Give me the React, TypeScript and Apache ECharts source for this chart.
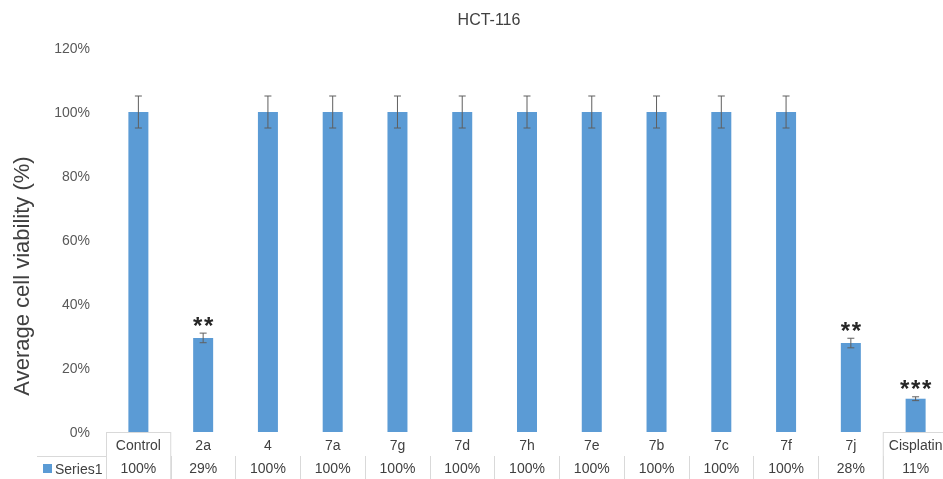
import React, { useEffect, useRef } from "react";
import * as echarts from "echarts";

const categories = ["Control", "2a", "4", "7a", "7g", "7d", "7h", "7e", "7b", "7c", "7f", "7j", "Cisplatin"];
const values = [100, 29.4, 100, 100, 100, 100, 100, 100, 100, 100, 100, 27.8, 10.4];
const errors = [5, 1.5, 5, 5, 5, 5, 5, 5, 5, 5, 5, 1.5, 0.6];
const tableLabels = ["100%", "29%", "100%", "100%", "100%", "100%", "100%", "100%", "100%", "100%", "100%", "28%", "11%"];
const markers = ["", "**", "", "", "", "", "", "", "", "", "", "**", "***"];
const yTicks = [0, 20, 40, 60, 80, 100, 120];

const FONT = "Liberation Sans";
const BAR = "#5B9BD5";
const LINE = "#d9d9d9";

export default function App() {
  const ref = useRef<HTMLDivElement>(null);
  useEffect(() => {
    if (!ref.current) return;
    const chart = echarts.init(ref.current, undefined, { renderer: "svg" });
    const gridLeft = 106;
    const gridTop = 48;
    const gridBottom = 47;
    chart.setOption({
      animation: false,
      textStyle: { fontFamily: FONT },
      grid: { left: gridLeft, right: 2, top: gridTop, bottom: gridBottom, containLabel: false },
      xAxis: [
        {
          type: "category",
          data: categories,
          position: "bottom",
          axisLine: { show: false },
          axisTick: { show: false },
          axisLabel: { color: "#404040", fontSize: 14, margin: 6, interval: 0 },
        },
        {
          type: "category",
          data: tableLabels,
          position: "bottom",
          offset: 24,
          axisLine: { show: false },
          axisTick: { show: true, length: 23, alignWithLabel: false, interval: 0, lineStyle: { color: LINE } },
          axisLabel: { color: "#404040", fontSize: 14, margin: 5, interval: 0 },
        },
      ],
      yAxis: {
        type: "value",
        min: yTicks[0],
        max: yTicks[yTicks.length - 1],
        interval: 20,
        axisLine: { show: false },
        axisTick: { show: false },
        splitLine: { show: false },
        axisLabel: { formatter: "{value}%", color: "#595959", fontSize: 14, margin: 16 },
      },
      series: [
        {
          type: "bar",
          data: values,
          barWidth: 20,
          itemStyle: { color: BAR },
          xAxisIndex: 0,
        },
        {
          type: "custom",
          xAxisIndex: 0,
          data: categories.map((_, i) => [i, values[i], errors[i]]),
          encode: { x: 0, y: 1 },
          z: 5,
          renderItem: (params: any, api: any) => {
            const x = api.value(0);
            const y = api.value(1);
            const e = api.value(2);
            const top = api.coord([x, y + e]);
            const bot = api.coord([x, y - e]);
            const h = 3.5;
            const st = { stroke: "#5f5f5f", lineWidth: 1 };
            const children: any[] = [
              { type: "line", shape: { x1: top[0], y1: top[1], x2: bot[0], y2: bot[1] }, style: st },
              { type: "line", shape: { x1: top[0] - h, y1: top[1], x2: top[0] + h, y2: top[1] }, style: st },
              { type: "line", shape: { x1: bot[0] - h, y1: bot[1], x2: bot[0] + h, y2: bot[1] }, style: st },
            ];
            const m = markers[params.dataIndex];
            if (m) {
              const n = m.length;
              for (let k = 0; k < n; k++) {
                children.push({
                  type: "text",
                  style: {
                    text: "*",
                    x: top[0] + (k - (n - 1) / 2) * 11,
                    y: top[1] + 4,
                    align: "center",
                    verticalAlign: "bottom",
                    fontSize: 24,
                    fontWeight: "bold",
                    fontFamily: FONT,
                    fill: "#262626",
                  },
                });
              }
            }
            return { type: "group", children };
          },
        },
      ],
      graphic: [
        {
          type: "text",
          style: { text: "HCT-116", x: 489, y: 19, align: "center", verticalAlign: "middle", fontSize: 16, fontFamily: FONT, fill: "#404040" },
        },
        {
          type: "text",
          rotation: Math.PI / 2,
          x: 21,
          y: 276,
          style: { text: "Average cell viability (%)", x: 0, y: 0, align: "center", verticalAlign: "middle", fontSize: 22, fontFamily: FONT, fill: "#404040" },
        },
        { type: "line", shape: { x1: 106, y1: 432.5, x2: 170.75, y2: 432.5 }, style: { stroke: LINE, lineWidth: 1 } },
        { type: "line", shape: { x1: 883, y1: 432.5, x2: 950, y2: 432.5 }, style: { stroke: LINE, lineWidth: 1 } },
        { type: "line", shape: { x1: 106.5, y1: 432, x2: 106.5, y2: 479 }, style: { stroke: LINE, lineWidth: 1 } },
        { type: "line", shape: { x1: 170.75, y1: 432, x2: 170.75, y2: 479 }, style: { stroke: LINE, lineWidth: 1 } },
        { type: "line", shape: { x1: 883.25, y1: 432, x2: 883.25, y2: 479 }, style: { stroke: LINE, lineWidth: 1 } },
        { type: "line", shape: { x1: 37, y1: 456.5, x2: 106, y2: 456.5 }, style: { stroke: LINE, lineWidth: 1 } },
        { type: "rect", shape: { x: 43, y: 464, width: 9, height: 9 }, style: { fill: BAR } },
        {
          type: "text",
          style: { text: "Series1", x: 55, y: 468.5, verticalAlign: "middle", fontSize: 14, fontFamily: FONT, fill: "#404040" },
        },
      ],
    });
    return () => chart.dispose();
  }, []);
  return (
    <div style={{ position: "fixed", left: 0, top: 0, width: 943, height: 479, overflow: "hidden" }}>
      <div ref={ref} style={{ width: 950, height: 479 }} />
    </div>
  );
}
